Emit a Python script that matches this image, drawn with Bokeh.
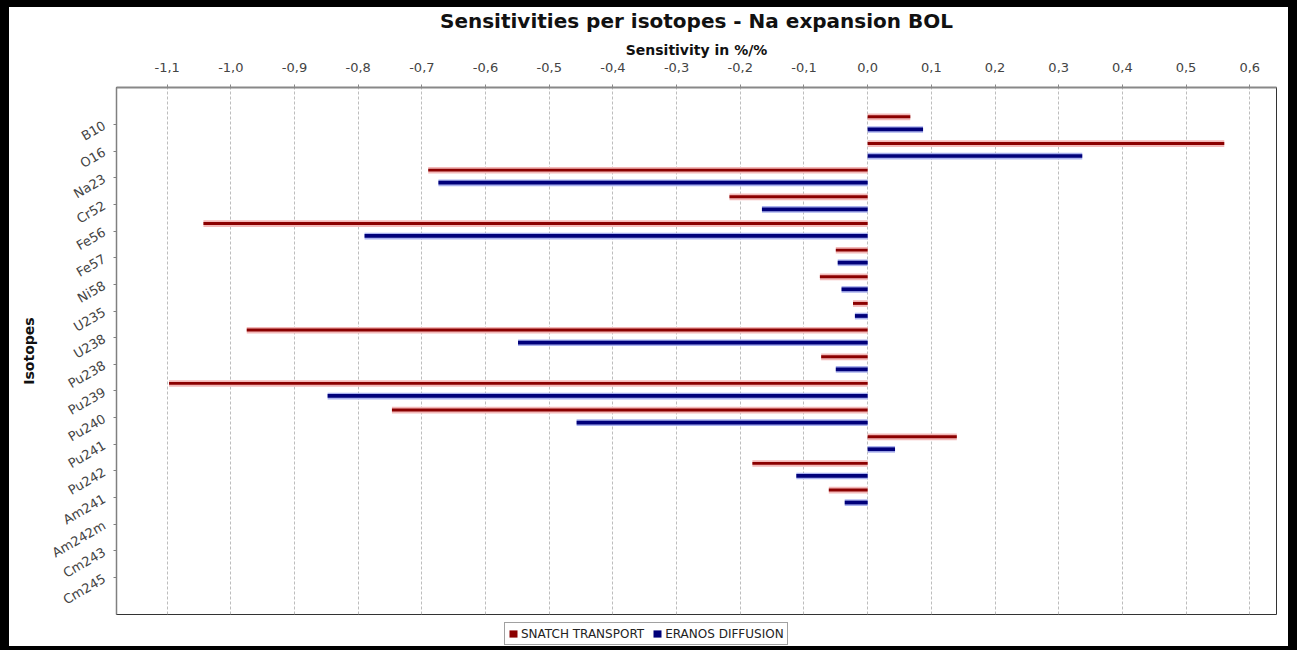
import math
from bokeh.plotting import figure
from bokeh.layouts import column
from bokeh.models import (ColumnDataSource, FactorRange, Range1d, FixedTicker,
                          CustomJSTickFormatter, Legend, LegendItem)
from bokeh.transform import dodge
from bokeh.embed import file_html
from bokeh.resources import INLINE

# ---------------- data ----------------
isotopes = ["B10", "O16", "Na23", "Cr52", "Fe56", "Fe57", "Ni58", "U235", "U238",
            "Pu238", "Pu239", "Pu240", "Pu241", "Pu242", "Am241", "Am242m",
            "Cm243", "Cm245"]
snatch_transport = [0.067, 0.560, -0.690, -0.217, -1.043, -0.050, -0.075, -0.023,
                    -0.975, -0.073, -1.097, -0.747, 0.140, -0.181, -0.061,
                    0.0, 0.0, 0.0]
eranos_diffusion = [0.087, 0.337, -0.674, -0.166, -0.790, -0.047, -0.041, -0.020,
                    -0.549, -0.050, -0.848, -0.457, 0.043, -0.112, -0.036,
                    0.0, 0.0, 0.0]
x_ticks = [-1.1, -1.0, -0.9, -0.8, -0.7, -0.6, -0.5, -0.4, -0.3, -0.2, -0.1,
           0.0, 0.1, 0.2, 0.3, 0.4, 0.5, 0.6]
series_names = ["SNATCH TRANSPORT", "ERANOS DIFFUSION"]
title_text = "Sensitivities per isotopes - Na expansion BOL"
x_title = "Sensitivity in %/%"
y_title = "Isotopes"

RED_LIGHT, RED_DARK = "#f3b9b9", "#8b0000"
BLUE_LIGHT, BLUE_DARK = "#aab2ee", "#00007a"

source = ColumnDataSource(dict(isotope=isotopes, snatch=snatch_transport,
                               eranos=eranos_diffusion))

FONT = "DejaVu Sans"

p = figure(width=1297, height=622, output_backend="svg", toolbar_location=None,
           x_axis_location="above",
           y_range=FactorRange(factors=list(reversed(isotopes)),
                               range_padding=0.885, range_padding_units="absolute"),
           x_range=Range1d(-1.1795, 0.642),
           min_border_left=116, min_border_right=21,
           min_border_top=87, min_border_bottom=8)

p.border_fill_alpha = 0
p.background_fill_color = "white"
p.outline_line_color = "#333333"
p.outline_line_width = 1

# ---------------- bars (layered to mimic the gradient painter) ----------------
p.hbar(y=dodge("isotope", 0.28, range=p.y_range), left=0, right="snatch",
       height=0.25, source=source, fill_color=RED_LIGHT, line_color=None)
p.hbar(y=dodge("isotope", 0.285, range=p.y_range), left=0, right="snatch",
       height=0.11, source=source, fill_color=RED_DARK, line_color=None)
p.hbar(y=dodge("isotope", -0.19, range=p.y_range), left=0, right="eranos",
       height=0.25, source=source, fill_color=BLUE_LIGHT, line_color=None)
p.hbar(y=dodge("isotope", -0.185, range=p.y_range), left=0, right="eranos",
       height=0.14, source=source, fill_color=BLUE_DARK, line_color=None)

# ---------------- grid ----------------
p.xgrid.grid_line_color = "#bdbdbd"
p.xgrid.grid_line_dash = "3 2"
p.xgrid.grid_line_width = 1
p.ygrid.grid_line_color = None

# ---------------- x axis (top) ----------------
xa = p.xaxis[0]
xa.ticker = FixedTicker(ticks=x_ticks)
xa.formatter = CustomJSTickFormatter(code="return tick.toFixed(1).replace('.', ',');")
xa.axis_label = x_title
xa.axis_label_text_font = FONT
xa.axis_label_text_font_size = "14px"
xa.axis_label_text_font_style = "bold"
xa.axis_label_text_color = "#111111"
xa.axis_label_standoff = 2
xa.major_label_text_font = FONT
xa.major_label_text_font_size = "13px"
xa.major_label_text_color = "#444444"
xa.major_label_standoff = 13
xa.axis_line_color = "#888888"
xa.axis_line_width = 2
xa.major_tick_line_color = "#888888"
xa.major_tick_out = 3
xa.major_tick_in = 0
xa.minor_tick_line_color = None

# ---------------- y axis (left) ----------------
ya = p.yaxis[0]
ya.axis_label = y_title
ya.axis_label_text_font = FONT
ya.axis_label_text_font_size = "14px"
ya.axis_label_text_font_style = "bold"
ya.axis_label_text_color = "#111111"
ya.axis_label_standoff = 6
ya.major_label_orientation = math.pi / 6
ya.major_label_text_font = FONT
ya.major_label_text_font_size = "13px"
ya.major_label_text_color = "#444444"
ya.major_label_standoff = 9
ya.axis_line_color = "#808080"
ya.axis_line_width = 1.5
ya.major_tick_line_color = "#808080"
ya.major_tick_out = 3
ya.major_tick_in = 0

# ---------------- title ----------------
p.title.text = title_text
p.title.text_font = FONT
p.title.text_font_size = "20px"
p.title.text_font_style = "bold"
p.title.text_color = "#111111"
p.title.align = "center"
p.title.offset = -44
p.title.standoff = 12

# ---------------- legend strip (own small canvas below the chart) ----------------
lf = figure(width=1297, height=28, output_backend="svg", toolbar_location=None,
            x_range=Range1d(0, 1), y_range=Range1d(0, 1), min_border=0)
lf.axis.visible = False
lf.grid.visible = False
lf.outline_line_color = None
lf.border_fill_alpha = 0
lf.background_fill_alpha = 0
# hidden key renderers (same data, not drawn) only supply the legend swatches
key_red = lf.hbar(y=0.5, right="snatch", height=1, source=source,
                  fill_color=RED_DARK, line_color=None, visible=False)
key_blue = lf.hbar(y=0.5, right="eranos", height=1, source=source,
                   fill_color=BLUE_DARK, line_color=None, visible=False)
legend = Legend(items=[LegendItem(label=series_names[0], renderers=[key_red]),
                       LegendItem(label=series_names[1], renderers=[key_blue])],
                orientation="horizontal", location=(388, 5),
                label_text_font=FONT, label_text_font_size="12px",
                label_text_color="#222222",
                glyph_width=10, glyph_height=9, label_height=15,
                label_standoff=3, spacing=8, padding=3, margin=0,
                border_line_color="#444444", border_line_width=1,
                background_fill_color="white", inactive_fill_alpha=0)
lf.add_layout(legend, "center")

lay = column(p, lf, spacing=0)
lay.styles = {"background-color": "white",
              "box-shadow": "inset 9px 7px 0 0 #000, inset -9px -4px 0 0 #000"}

open("out.html", "w").write(file_html(lay, INLINE))
